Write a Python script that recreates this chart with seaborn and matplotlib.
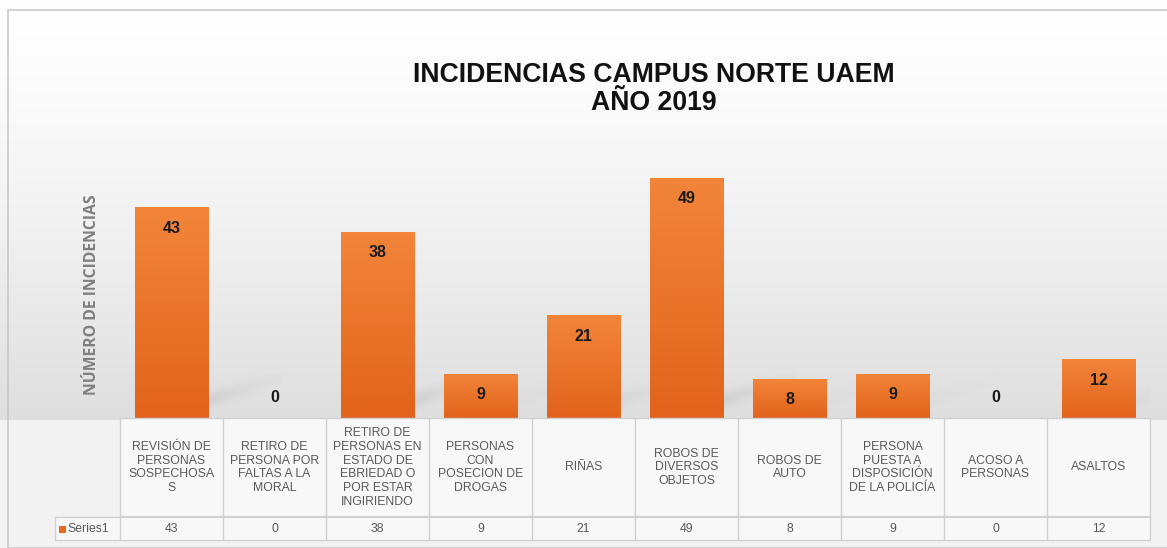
import numpy as np
import pandas as pd
import matplotlib
matplotlib.use("Agg")
import matplotlib.pyplot as plt
import seaborn as sns
from matplotlib.lines import Line2D
from matplotlib.patches import Rectangle
from matplotlib.colors import LinearSegmentedColormap

categories = [
    "REVISIÓN DE\nPERSONAS\nSOSPECHOSA\nS",
    "RETIRO DE\nPERSONA POR\nFALTAS A LA\nMORAL",
    "RETIRO DE\nPERSONAS EN\nESTADO DE\nEBRIEDAD O\nPOR ESTAR\nINGIRIENDO",
    "PERSONAS\nCON\nPOSECION DE\nDROGAS",
    "RIÑAS",
    "ROBOS DE\nDIVERSOS\nOBJETOS",
    "ROBOS DE\nAUTO",
    "PERSONA\nPUESTA A\nDISPOSICIÓN\nDE LA POLICÍA",
    "ACOSO A\nPERSONAS",
    "ASALTOS",
]
values = [43, 0, 38, 9, 21, 49, 8, 9, 0, 12]
series_name = "Series1"
title_lines = ["INCIDENCIAS CAMPUS NORTE UAEM", "AÑO 2019"]
ylabel = "NÚMERO DE INCIDENCIAS"

sns.set_theme(style="white")
plt.rcParams['font.family'] = ['Liberation Sans', 'DejaVu Sans']

W, H = 1167, 548
fig = plt.figure(figsize=(W / 100, H / 100), dpi=100)

# background gradient
bg = fig.add_axes([0, 0, 1, 1], zorder=-10)
rows = np.arange(H)
g = np.where(rows < 420, 1.0 - 0.13 * (rows / 420.0) ** 1.4, 0.95)
bg.imshow(np.dstack([g, g, g]).reshape(H, 1, 3), aspect='auto', extent=[0, 1, 0, 1], origin='upper')
bg.set_axis_off()
bg.add_patch(Rectangle((8 / W, 0), 1, 1 - 10 / H, fill=False, ec='#c8c8c8', lw=1.2, transform=bg.transAxes))

left, right = 120 / W, 1150 / W
base_y, top_y = 418, 173
ax = fig.add_axes([left, 1 - base_y / H, right - left, (base_y - top_y) / H])
ax.patch.set_alpha(0)

df = pd.DataFrame({"cat": range(len(values)), "val": values})
sns.barplot(data=df, x="cat", y="val", color="#E96A20", width=0.71, ax=ax,
            saturation=1, edgecolor='none')
ax.set_xticks([]); ax.set_yticks([])
ax.set_xlabel(""); ax.set_ylabel("")
for s in ax.spines.values():
    s.set_visible(False)

# orange vertical gradient on the bars + soft shadow
cmap = LinearSegmentedColormap.from_list("org", ["#F2853A", "#E2631B"])
gimg = np.linspace(0, 1, 256).reshape(-1, 1)
yy, xx = np.mgrid[0:1:80j, 0:1:120j]
for p in ax.patches:
    h = p.get_height()
    if h <= 0:
        continue
    x0, w = p.get_x(), p.get_width()
    im = ax.imshow(gimg, cmap=cmap, aspect='auto', extent=[x0, x0 + w, 0, h],
                   origin='upper', zorder=p.get_zorder() + 0.1)
    im.set_clip_path(p)
    # shadow: diagonal blurred band rising to the right from the bar foot
    strength = min(1.0, h / 40.0) * 0.22
    d = (1 - yy) - 0.55 * xx  # distance from diagonal (yy from top)
    a = strength * np.exp(-(d - 0.35) ** 2 / 0.03) * np.exp(-xx * 2.2) * (1 - yy) ** 0.5
    rgba = np.zeros((80, 120, 4))
    rgba[..., :3] = 0.35
    rgba[..., 3] = np.clip(a, 0, 1)
    ax.imshow(rgba, aspect='auto', extent=[x0 + w - 0.05, x0 + w + 0.7, 0, 9],
              origin='upper', zorder=p.get_zorder() - 0.5, interpolation='bilinear')
ax.set_xlim(-0.5, len(values) - 0.5)
ax.set_ylim(0, 50)

for i, v in enumerate(values):
    off = -21 if v > 0 else 21
    ax.annotate(str(v), (i, v), xytext=(0, off), textcoords='offset pixels',
                ha='center', va='center', fontsize=11.5, fontweight='bold', color='#1a1a1a',
                zorder=5)

# data table
trans = ax.get_xaxis_transform()
ax_h = base_y - top_y
r1 = -(517 - base_y) / ax_h
r2 = -(540 - base_y) / ax_h
lc = '#d0d0d0'
n = len(values)
for k in range(n + 1):
    ax.add_line(Line2D([k - 0.5, k - 0.5], [0, r2], transform=trans, color=lc, lw=1, clip_on=False))
ax.add_line(Line2D([-0.5, n - 0.5], [0, 0], transform=trans, color=lc, lw=1, clip_on=False))
ax.add_line(Line2D([-0.5, n - 0.5], [r1, r1], transform=trans, color=lc, lw=1.5, clip_on=False))
ax.add_line(Line2D([-0.5, n - 0.5], [r2, r2], transform=trans, color=lc, lw=1, clip_on=False))
ax.add_patch(Rectangle((-0.5, r2), n, -r2, transform=trans, facecolor='#f8f8f8', edgecolor='none',
                       clip_on=False, zorder=-1))
for i, (c, v) in enumerate(zip(categories, values)):
    ax.text(i, r1 / 2, c, transform=trans, ha='center', va='center', fontsize=8.8,
            color='#595959', linespacing=1.2)
    ax.text(i, (r1 + r2) / 2, str(v), transform=trans, ha='center', va='center', fontsize=8.8,
            color='#595959')

# legend key cell
lx0 = 55 / W
fig.add_artist(Line2D([lx0, left], [1 - 517 / H, 1 - 517 / H], color=lc, lw=1))
fig.add_artist(Line2D([lx0, left], [1 - 540 / H, 1 - 540 / H], color=lc, lw=1))
fig.add_artist(Line2D([lx0, lx0], [1 - 517 / H, 1 - 540 / H], color=lc, lw=1))
fig.add_artist(Rectangle((lx0, 1 - 540 / H), left - lx0, 23 / H, facecolor='#f8f8f8', edgecolor='none', zorder=-1))
fig.add_artist(Rectangle((59 / W, 1 - 533 / H), 7 / W, 7 / H, facecolor='#E96A20', edgecolor='none'))
fig.text(67 / W, 1 - 529 / H, series_name, ha='left', va='center', fontsize=8.8, color='#595959')

# title
fig.text(654 / W, 1 - 89 / H, "\n".join(title_lines), ha='center', va='center',
         fontsize=19.2, fontweight='bold', color='#111111', linespacing=1.1)

# y label
fig.text(92 / W, 1 - 295 / H, ylabel, rotation=90, ha='center', va='center',
         fontsize=11.3, fontweight='bold', color='#7f7f7f', family=['Open Sans', 'DejaVu Sans'])

fig.savefig("out.png", dpi=100)
